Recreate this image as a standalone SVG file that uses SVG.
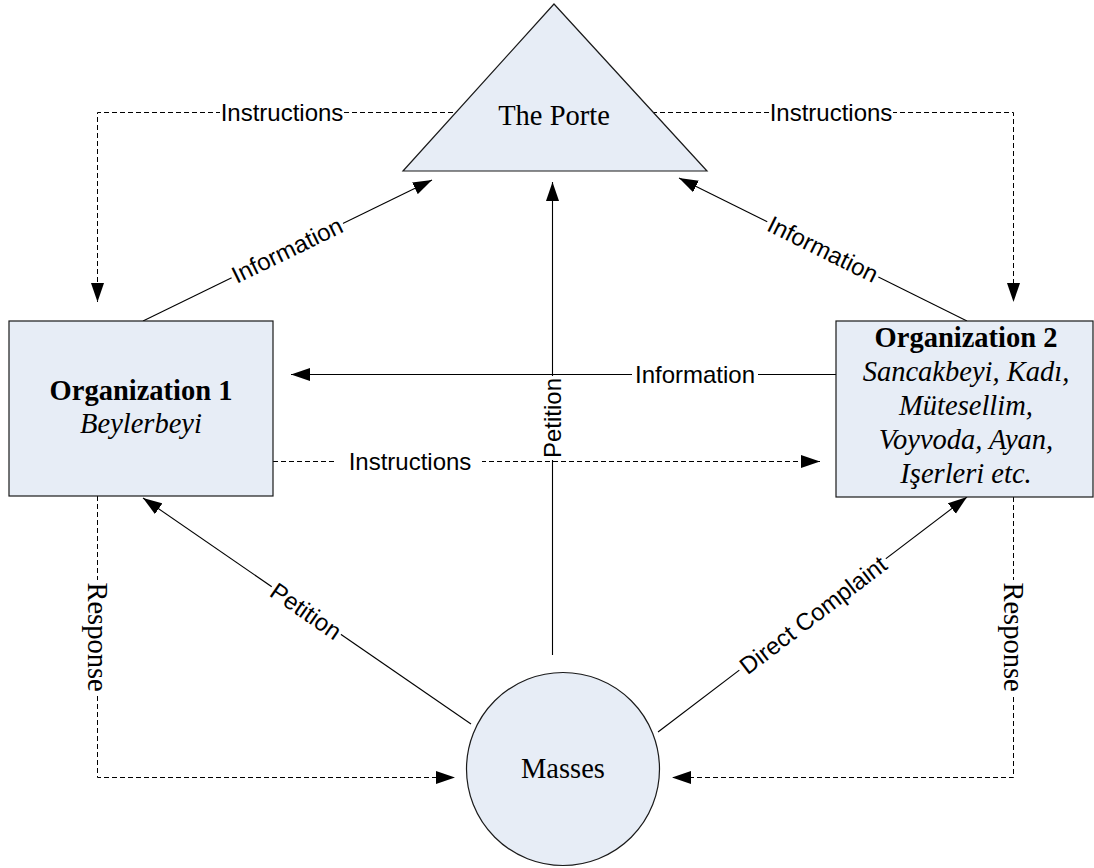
<svg xmlns="http://www.w3.org/2000/svg" width="1094" height="868" viewBox="0 0 1094 868">
<style>
.node{fill:#e7edf6;stroke:#1a1a1a;stroke-width:1.2}
.ln{fill:none;stroke:#000;stroke-width:1.1}
.ds{fill:none;stroke:#000;stroke-width:1;stroke-dasharray:5 3}
.sf{font-family:"Liberation Serif","Times New Roman",serif;font-size:28.5px;fill:#000;text-anchor:middle}
.b{font-weight:bold}
.i{font-style:italic}
.lb{font-family:"Liberation Sans",Arial,sans-serif;font-size:24px;fill:#000;text-anchor:middle;dominant-baseline:central}
.rs{font-family:"Liberation Serif","Times New Roman",serif;font-size:28.5px;fill:#000;text-anchor:middle;dominant-baseline:central}
.bg{fill:#fff;stroke:none}
</style>
<defs>
<marker id="ah" markerUnits="userSpaceOnUse" markerWidth="19" markerHeight="14" refX="19" refY="7" orient="auto">
<path d="M0,0.5 L19,7 L0,13.5 Z" fill="#000" stroke="none"/>
</marker>
</defs>
<g id="connectors">
<path class="ds" d="M453,112.5 H97.5 V302" marker-end="url(#ah)"/>
<path class="ds" d="M652,112.5 H1013.5 V302" marker-end="url(#ah)"/>
<path class="ln" d="M143,321 L432,180" marker-end="url(#ah)"/>
<path class="ln" d="M967,321 L679,178" marker-end="url(#ah)"/>
<path class="ln" d="M552.5,655 V182" marker-end="url(#ah)"/>
<path class="ln" d="M836,374.5 H291" marker-end="url(#ah)"/>
<path class="ds" d="M273,461.5 H820" marker-end="url(#ah)"/>
<path class="ln" d="M471,724 L143,498" marker-end="url(#ah)"/>
<path class="ln" d="M658,732 L967,497" marker-end="url(#ah)"/>
<path class="ds" d="M97.5,496 V777.5 H455" marker-end="url(#ah)"/>
<path class="ds" d="M1013.5,497 V777.5 H672" marker-end="url(#ah)"/>

<rect class="bg" x="220" y="100" width="124" height="24"/>
<text class="lb" x="282" y="112">Instructions</text>
<rect class="bg" x="769" y="100" width="124" height="24"/>
<text class="lb" x="831" y="112">Instructions</text>
<g transform="translate(287,250) rotate(-26)">
<rect class="bg" x="-62" y="-11" width="124" height="22"/>
<text class="lb" x="0" y="0">Information</text>
</g>
<g transform="translate(823,249) rotate(26.4)">
<rect class="bg" x="-62" y="-11" width="124" height="22"/>
<text class="lb" x="0" y="0">Information</text>
</g>
<rect class="bg" x="632" y="363" width="126" height="22"/>
<text class="lb" x="695" y="374">Information</text>
<rect class="bg" x="336" y="449" width="146" height="24"/>
<text class="lb" x="410" y="461">Instructions</text>
<g transform="translate(552,418) rotate(-90)">
<rect class="bg" x="-42" y="-11" width="84" height="22"/>
<text class="lb" x="0" y="0">Petition</text>
</g>
<g transform="translate(306,611) rotate(34.6)">
<rect class="bg" x="-42" y="-11" width="84" height="22"/>
<text class="lb" x="0" y="0">Petition</text>
</g>
<g transform="translate(813,615) rotate(-37.3)">
<rect class="bg" x="-92" y="-11" width="184" height="22"/>
<text class="lb" x="0" y="0">Direct Complaint</text>
</g>
<g transform="translate(97,637) rotate(90)">
<rect class="bg" x="-57" y="-12" width="114" height="24"/>
<text class="rs" x="0" y="0">Response</text>
</g>
<g transform="translate(1013,637) rotate(90)">
<rect class="bg" x="-57" y="-12" width="114" height="24"/>
<text class="rs" x="0" y="0">Response</text>
</g>
</g>
<g id="porte">
<polygon class="node" points="554,4 707,171 403,171"/>
<text class="sf" x="554" y="125">The Porte</text>
</g>
<g id="org1">
<rect class="node" x="9" y="321" width="264" height="175"/>
<text class="sf b" x="141" y="400">Organization 1</text>
<text class="sf i" x="141" y="433">Beylerbeyi</text>
</g>
<g id="org2">
<rect class="node" x="836" y="321" width="257" height="176"/>
<text class="sf b" x="966" y="347">Organization 2</text>
<text class="sf i" x="966" y="381">Sancakbeyi, Kadı,</text>
<text class="sf i" x="966" y="415">Mütesellim,</text>
<text class="sf i" x="966" y="449">Voyvoda, Ayan,</text>
<text class="sf i" x="966" y="483">Işerleri etc.</text>
</g>
<g id="masses">
<circle class="node" cx="563" cy="769" r="96.5"/>
<text class="sf" x="563" y="778">Masses</text>
</g>
</svg>
